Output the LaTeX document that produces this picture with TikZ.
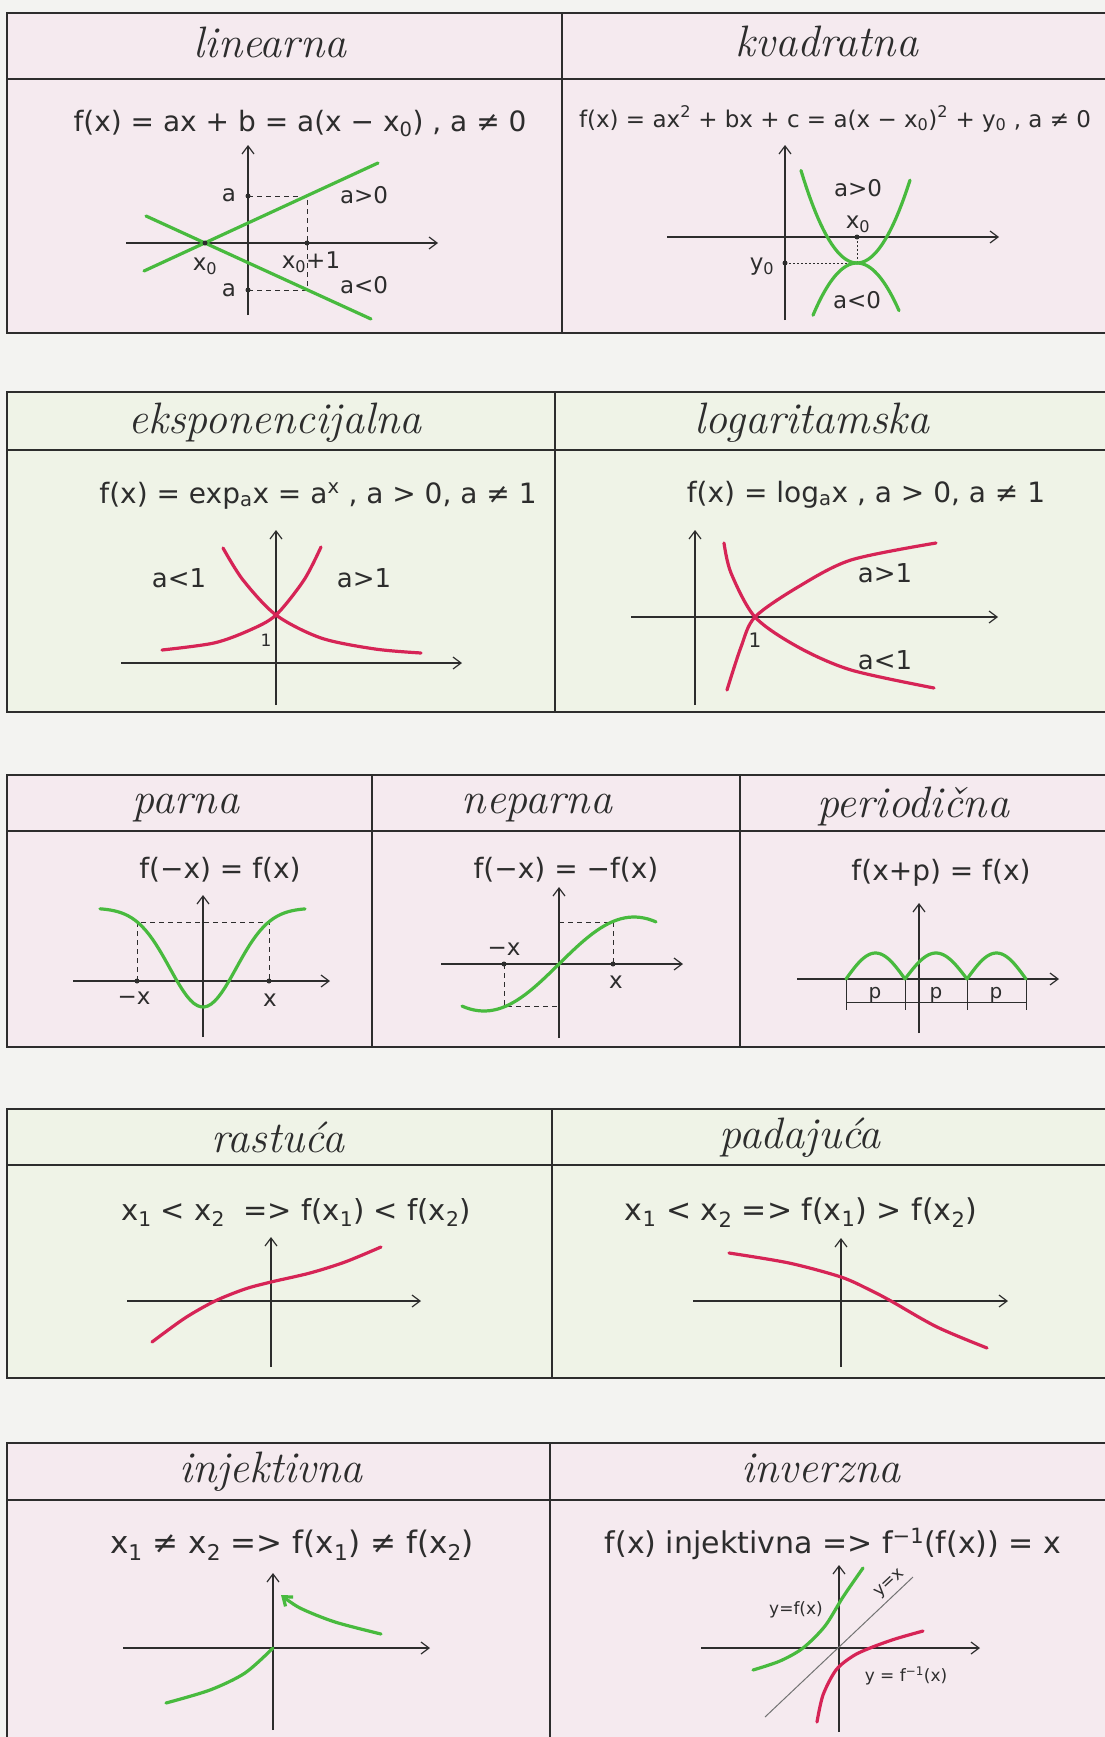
\documentclass[tikz,border=0pt]{standalone}
\usepackage{fontspec}
\newfontfamily\hand{DejaVu Sans}
\usetikzlibrary{arrows.meta}

\definecolor{paper}{RGB}{243,243,241}
\definecolor{pinkwash}{RGB}{245,234,239}
\definecolor{greenwash}{RGB}{239,243,231}
\definecolor{ink}{RGB}{45,45,45}
\definecolor{pengreen}{RGB}{72,186,62}
\definecolor{penred}{RGB}{214,36,86}

\newcommand{\subx}[1]{\textsubscript{#1}}
\newcommand{\supx}[1]{\textsuperscript{#1}}

\begin{document}
\begin{tikzpicture}[
    x=1pt, y=-1pt,
    boxline/.style={draw=ink, line width=1.8pt},
    heading/.style={font=\fontsize{44}{46}\selectfont\itshape, text=ink, anchor=base, inner sep=0pt},
    formula/.style={font=\hand\fontsize{28}{30}\selectfont, text=ink, anchor=base, inner sep=0pt},
    lbl/.style={font=\hand\fontsize{23}{25}\selectfont, text=ink, inner sep=0pt},
    small/.style={font=\hand\fontsize{17}{19}\selectfont, text=ink, inner sep=0pt},
    axisline/.style={draw=ink, line width=1.2pt, -{Straight Barb[length=8pt,width=12pt]}},
    helper/.style={draw=ink, line width=0.9pt, dash pattern=on 5pt off 4pt},
    dotline/.style={draw=ink, line width=0.9pt, dash pattern=on 1.5pt off 2.5pt},
    greencurve/.style={draw=pengreen, line width=3.2pt, line cap=round},
    redcurve/.style={draw=penred, line width=3.2pt, line cap=round},
    ptdot/.style={circle, fill=ink, inner sep=0pt, minimum size=5pt}
]

% Paper
\useasboundingbox (0,0) rectangle (1105,1737);
\fill[paper] (0,0) rectangle (1105,1737);

% Row 1
\fill[pinkwash] (7,13) rectangle (1105,333);
\draw[boxline] (1105,13) -- (7,13) -- (7,333) -- (1105,333);
\draw[boxline] (7,79) -- (1105,79) (562,13) -- (562,333);

\node[heading] (tlin) at (270,58) {linearna};
\node[formula] (flin) at (300,131) {f(x) = ax + b = a(x − x\subx{0}) ,\ a ≠ 0};
\draw[axisline] (126,243) -- (438,243);
\draw[axisline] (248,315) -- (248,145);
\draw[helper] (248,196) -- (307,196) -- (307,290) -- (248,290);
\draw[greencurve] (144,271) -- (378,163);
\draw[greencurve] (146,216) -- (371,319);
\node[ptdot] (x0lin) at (205,243) {};
\node[ptdot] (x1lin) at (307,243) {};
\node[ptdot] (aup) at (248,196) {};
\node[ptdot] (adn) at (248,290) {};
\node[lbl] (laup) at (229,195) {a};
\node[lbl] (ladn) at (229,290) {a};
\node[lbl] (lx0) at (205,266) {x\subx{0}};
\node[lbl] (lx1) at (311,262) {x\subx{0}+1};
\node[lbl] (lpos) at (364,195) {a>0};
\node[lbl] (lneg) at (364,285) {a<0};

\node[heading] (tkv) at (827,57) {kvadratna};
\node[formula, font=\hand\fontsize{23}{25}\selectfont] (fkv) at (835,127) {f(x) = ax\supx{2} + bx + c = a(x − x\subx{0})\supx{2} + y\subx{0} , a ≠ 0};
\draw[axisline] (667,237) -- (999,237);
\draw[axisline] (785,320) -- (785,145);
\draw[dotline] (785,263) -- (857,263) (857,237) -- (857,263);
\draw[greencurve] plot[domain=-56:53, samples=40] ({857+\x},{263-0.0295*\x*\x});
\draw[greencurve] plot[domain=-44:42, samples=40] ({857+\x},{263+0.027*\x*\x});
\node[ptdot] (x0kv) at (857,237) {};
\node[ptdot] (y0kv) at (785,263) {};
\node[lbl] (lkvpos) at (858,188) {a>0};
\node[lbl] (lkvx) at (858,224) {x\subx{0}};
\node[lbl] (lkvy) at (762,267) {y\subx{0}};
\node[lbl] (lkvneg) at (857,300) {a<0};

% Row 2
\fill[greenwash] (7,392) rectangle (1105,712);
\draw[boxline] (1105,392) -- (7,392) -- (7,712) -- (1105,712);
\draw[boxline] (7,450) -- (1105,450) (555,392) -- (555,712);

\node[heading] (texp) at (275,433) {eksponencijalna};
\node[formula] (fexp) at (318,503) {f(x) = exp\subx{a}x = a\supx{x} ,\ a > 0, a ≠ 1};
\draw[axisline] (121,663) -- (462,663);
\draw[axisline] (276,705) -- (276,530);
\draw[redcurve] plot[smooth] coordinates {(162,650) (214,643) (250,630) (276,615) (304,580) (321,547)};
\draw[redcurve] plot[smooth] coordinates {(223,548) (243,580) (276,615) (321,638) (375,649) (421,653)};
\node[lbl, font=\hand\fontsize{26}{28}\selectfont] (lexpneg) at (179,578) {a<1};
\node[lbl, font=\hand\fontsize{26}{28}\selectfont] (lexppos) at (364,578) {a>1};
\node[small] (lexpone) at (266,640) {1};

\node[heading] (tlog) at (812,433) {logaritamska};
\node[formula] (flog) at (866,502) {f(x) = log\subx{a}x ,\ a > 0, a ≠ 1};
\draw[axisline] (631,617) -- (998,617);
\draw[axisline] (695,705) -- (695,530);
\draw[redcurve] plot[smooth] coordinates {(727,690) (741,647) (755,617) (798,587) (851,560) (936,543)};
\draw[redcurve] plot[smooth] coordinates {(724,543) (731,573) (755,617) (798,647) (851,670) (934,688)};
\node[lbl, font=\hand\fontsize{26}{28}\selectfont] (llogpos) at (885,573) {a>1};
\node[lbl, font=\hand\fontsize{26}{28}\selectfont] (llogneg) at (885,660) {a<1};
\node[lbl, font=\hand\fontsize{20}{22}\selectfont] (llogone) at (755,640) {1};

% Row 3
\fill[pinkwash] (7,775) rectangle (1105,1047);
\draw[boxline] (1105,775) -- (7,775) -- (7,1047) -- (1105,1047);
\draw[boxline] (7,831) -- (1105,831) (372,775) -- (372,1047) (740,775) -- (740,1047);

\node[heading] (tpar) at (186,813) {parna};
\node[formula] (fpar) at (220,878) {f(−x) = f(x)};
\draw[axisline] (73,981) -- (330,981);
\draw[axisline] (203,1037) -- (203,895);
\draw[helper] (137,981) -- (137,922) -- (269,922) -- (269,981);
\draw[greencurve] plot[domain=-103:102, samples=60] ({203+\x},{908+99*exp(-(\x/47)*(\x/47))});
\node[ptdot] (mxpar) at (137,981) {};
\node[ptdot] (pxpar) at (269,981) {};
\node[lbl] (lmxpar) at (134,998) {−x};
\node[lbl] (lpxpar) at (270,1000) {x};

\node[heading] (tnep) at (537,813) {neparna};
\node[formula] (fnep) at (566,878) {f(−x) = −f(x)};
\draw[axisline] (441,964) -- (683,964);
\draw[axisline] (559,1038) -- (559,887);
\draw[helper] (559,922) -- (613,922) -- (613,964);
\draw[helper] (504,964) -- (504,1006) -- (559,1006);
\draw[greencurve] plot[domain=-97:97, samples=50] ({559+\x},{964-47*sin(1.2*\x)});
\node[ptdot] (mxnep) at (504,964) {};
\node[ptdot] (pxnep) at (613,964) {};
\node[lbl] (lmxnep) at (504,949) {−x};
\node[lbl] (lpxnep) at (616,982) {x};

\node[heading] (tper) at (913,817) {periodična};
\node[formula] (fper) at (941,880) {f(x+p) = f(x)};
\draw[axisline] (797,979) -- (1059,979);
\draw[axisline] (919,1033) -- (919,903);
\foreach \t in {846,905,967,1026}
    \draw[ink, line width=0.9pt] (\t,979) -- (\t,1010);
\draw[ink, line width=0.9pt] (846,1002) -- (1026,1002);
\foreach \a/\b in {846/905,905/967,967/1026}
    \draw[greencurve] plot[domain=\a:\b, samples=30] (\x,{979-26*sin(180*(\x-\a)/(\b-\a))});
\node[lbl, font=\hand\fontsize{20}{22}\selectfont, anchor=base] (lp1) at (875,998) {p};
\node[lbl, font=\hand\fontsize{20}{22}\selectfont, anchor=base] (lp2) at (936,998) {p};
\node[lbl, font=\hand\fontsize{20}{22}\selectfont, anchor=base] (lp3) at (996,998) {p};

% Row 4
\fill[greenwash] (7,1109) rectangle (1105,1378);
\draw[boxline] (1105,1109) -- (7,1109) -- (7,1378) -- (1105,1378);
\draw[boxline] (7,1165) -- (1105,1165) (552,1109) -- (552,1378);

\node[heading] (tras) at (278,1152) {rastuća};
\node[formula, font=\hand\fontsize{29}{31}\selectfont] (fras) at (296,1220) {x\subx{1} < x\subx{2}\ \ => f(x\subx{1}) < f(x\subx{2})};
\draw[axisline] (127,1301) -- (421,1301);
\draw[axisline] (271,1367) -- (271,1237);
\draw[redcurve] plot[smooth] coordinates {(152,1342) (185,1318) (215,1301) (245,1289) (271,1282) (310,1273) (345,1262) (381,1247)};

\node[heading] (tpad) at (800,1148) {padajuća};
\node[formula, font=\hand\fontsize{30}{32}\selectfont] (fpad) at (801,1220) {x\subx{1} < x\subx{2} => f(x\subx{1}) > f(x\subx{2})};
\draw[axisline] (693,1301) -- (1008,1301);
\draw[axisline] (841,1367) -- (841,1238);
\draw[redcurve] plot[smooth] coordinates {(729,1253) (789,1263) (841,1277) (870,1290) (891,1301) (937,1327) (987,1348)};

% Row 5
\fill[pinkwash] (7,1443) rectangle (1105,1737);
\draw[boxline] (1105,1443) -- (7,1443) -- (7,1737);
\draw[boxline] (7,1500) -- (1105,1500) (550,1443) -- (550,1737);

\node[heading] (tinj) at (271,1482) {injektivna};
\node[formula, font=\hand\fontsize{31}{33}\selectfont] (finj) at (292,1553) {x\subx{1} ≠ x\subx{2} => f(x\subx{1}) ≠ f(x\subx{2})};
\draw[axisline] (123,1648) -- (430,1648);
\draw[axisline] (273,1730) -- (273,1573);
\draw[greencurve] plot[smooth] coordinates {(166,1703) (210,1690) (245,1673) (273,1648)};
\draw[greencurve, -{Straight Barb[length=8pt,width=12pt]}] plot[smooth] coordinates {(381,1634) (335,1622) (300,1608) (281,1595)};

\node[heading] (tinv) at (821,1482) {inverzna};
\node[formula, font=\hand\fontsize{30}{32}\selectfont] (finv) at (833,1553) {f(x) injektivna => f\supx{−1}(f(x)) = x};
\draw[axisline] (701,1648) -- (980,1648);
\draw[axisline] (839,1732) -- (839,1565);
\draw[black!55, line width=1pt] (765,1717) -- (913,1577);
\draw[greencurve] plot[smooth] coordinates {(753,1670) (780,1661) (803,1648) (825,1626) (843,1597) (863,1568)};
\draw[redcurve] plot[smooth] coordinates {(817,1722) (823,1695) (836,1670) (853,1656) (870,1648) (895,1639) (923,1631)};
\node[small] (lyf) at (796,1610) {y=f(x)};
\node[small, rotate=43] (lyx) at (890,1584) {y=x};
\node[small] (lyinv) at (906,1676) {y = f\supx{−1}(x)};

\end{tikzpicture}
\end{document}
